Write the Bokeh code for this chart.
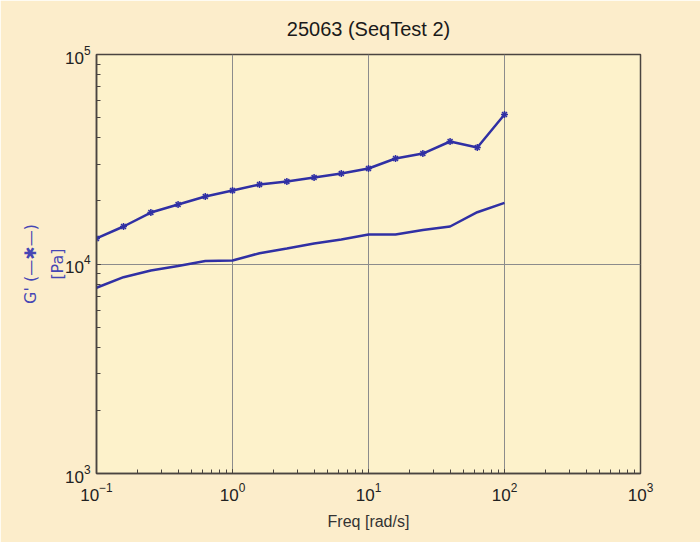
import numpy as np
from bokeh.plotting import figure
from bokeh.models import LogTicker
from bokeh.embed import file_html
from bokeh.resources import INLINE

## data ##

freq = [0.1, 0.158, 0.251, 0.398, 0.631, 1.0, 1.58, 2.51, 3.98, 6.31,
        10.0, 15.8, 25.1, 39.8, 63.1, 100.0]
g_prime = [13240, 15100, 17610, 19230, 21000, 22430, 23960, 24770, 25880, 27040,
           28570, 31890, 33670, 38440, 35980, 51700]
g_second = [7700, 8650, 9310, 9780, 10330, 10390, 11260, 11860, 12530, 13090,
            13830, 13830, 14530, 15100, 17670, 19590]

line_col = "#3030a4"
font = "Liberation Sans"

p = figure(width=700, height=542, x_axis_type="log", y_axis_type="log",
           x_range=(0.1, 1000), y_range=(1000, 100000),
           output_backend="svg", toolbar_location=None,
           min_border_left=96, min_border_right=60, min_border_top=54, min_border_bottom=69)

p.title.text = "25063 (SeqTest 2)"
p.title.align = "center"
p.title.text_font = font
p.title.text_font_size = "20px"
p.title.text_font_style = "normal"
p.title.text_color = "#1a1a1a"
p.title.standoff = 29

p.background_fill_color = "#fdf2cb"
p.border_fill_color = "#fcedcb"
p.outline_line_color = "#4a4440"
p.outline_line_width = 1.5

p.line(freq, g_prime, line_color=line_col, line_width=2.5)
p.scatter(freq, g_prime, marker="asterisk", size=7, line_color=line_col, line_width=1.5)
p.line(freq, g_second, line_color=line_col, line_width=2.5)

for ax in (p.xaxis[0], p.yaxis[0]):
    ax.ticker = LogTicker(num_minor_ticks=10)
    ax.axis_line_color = "#4a4440"
    ax.axis_line_width = 1.5
    ax.major_tick_in = 4
    ax.major_tick_out = 0
    ax.minor_tick_in = 4
    ax.minor_tick_out = 0
    ax.major_tick_line_color = "#4a4440"
    ax.minor_tick_line_color = "#4a4440"
    ax.major_label_text_font = font
    ax.major_label_text_font_size = "17px"
    ax.major_label_text_color = "#222222"

p.xaxis.axis_label = "Freq [rad/s]"
p.xaxis.axis_label_text_font = font
p.xaxis.axis_label_text_font_size = "16px"
p.xaxis.axis_label_text_font_style = "normal"
p.xaxis.axis_label_text_color = "#333333"
p.xaxis.major_label_standoff = 9
p.xaxis.axis_label_standoff = 9

p.yaxis.axis_label = "G' (\u2014\u2731\u2014)\n[Pa]"
p.yaxis.axis_label_text_font = "DejaVu Sans"
p.yaxis.axis_label_text_font_size = "16px"
p.yaxis.axis_label_text_font_style = "normal"
p.yaxis.axis_label_text_color = "#4646b4"
p.yaxis.axis_label_text_line_height = 1.4
p.yaxis.major_label_standoff = 6
p.yaxis.axis_label_standoff = -5

p.xgrid.grid_line_color = "#8c8c8c"
p.ygrid.grid_line_color = "#8c8c8c"
p.xgrid.grid_line_width = 1
p.ygrid.grid_line_width = 1

open("out.html", "w").write(file_html(p, INLINE))
